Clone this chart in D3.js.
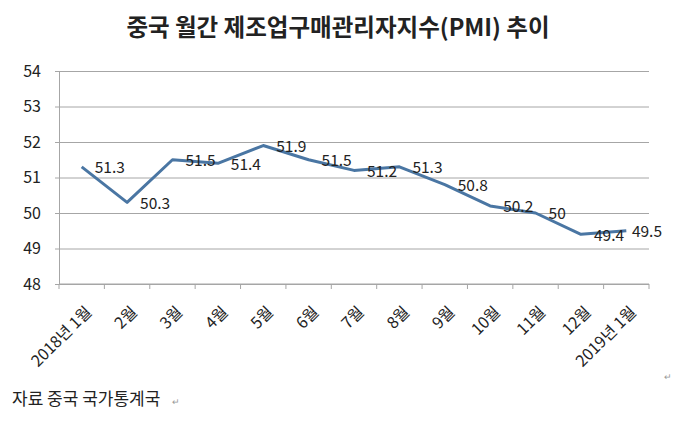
<!DOCTYPE html>
<html>
<head>
<meta charset="utf-8">
<script src="https://cdn.jsdelivr.net/npm/d3@7"></script>
<style>
  body { margin: 0; background: #fff; }
  text { font-family: "Noto Sans CJK KR", "Malgun Gothic", sans-serif; fill: #222; }
</style>
</head>
<body>
<svg id="chart" width="680" height="421"></svg>
<script>
var months = ['2018년 1월', '2월', '3월', '4월', '5월', '6월', '7월', '8월', '9월', '10월', '11월', '12월', '2019년 1월'];
var pmi = [51.3, 50.3, 51.5, 51.4, 51.9, 51.5, 51.2, 51.3, 50.8, 50.2, 50, 49.4, 49.5];
var yTicks = [48, 49, 50, 51, 52, 53, 54];

var svg = d3.select('#chart'),
    mLeft = 59, mRight = 649, mTop = 71, mBottom = 284;

var x = d3.scaleBand().domain(months).range([mLeft, mRight]);
var y = d3.scaleLinear().domain([48, 54]).range([mBottom, mTop]);

// title
svg.append('text')
    .attr('x', 338).attr('y', 36)
    .attr('text-anchor', 'middle')
    .attr('font-size', 23.5).attr('font-weight', 'bold')
    .text('중국 월간 제조업구매관리자지수(PMI) 추이');

// gridlines + y axis
svg.append('g')
    .attr('transform', 'translate(' + mLeft + ',0)')
    .call(d3.axisLeft(y).tickValues(yTicks).tickFormat(d3.format('d')).tickSize(4).tickPadding(14))
    .call(g => {
        g.select('.domain').attr('stroke', '#a6a6a6')
        g.selectAll('.tick line').attr('stroke', '#a6a6a6')
        g.selectAll('.tick line').clone()
            .attr('x2', mRight - mLeft)
        g.selectAll('.tick text').attr('font-size', 16).attr('fill', '#222')
            .attr('font-family', '"Noto Sans CJK KR", sans-serif')
    });

// x axis with ticks between categories
var xAxis = svg.append('g').attr('transform', 'translate(0,' + mBottom + ')');
xAxis.append('line')
    .attr('x1', mLeft).attr('x2', mRight)
    .attr('stroke', '#a6a6a6');
xAxis.selectAll('.bound')
    .data(months.concat(['end']))
    .enter().append('line')
    .attr('x1', (d, i) => mLeft + i * x.step())
    .attr('x2', (d, i) => mLeft + i * x.step())
    .attr('y1', 0).attr('y2', 5)
    .attr('stroke', '#a6a6a6');
xAxis.selectAll('.lbl')
    .data(months)
    .enter().append('text')
    .attr('transform', d => 'translate(' + (x(d) + x.bandwidth() / 2 + 7) + ',25) rotate(-45)')
    .attr('text-anchor', 'end')
    .attr('dy', '0.35em')
    .attr('font-size', 16)
    .text(d => d);

// line
var line = d3.line()
    .x((d, i) => x(months[i]) + x.bandwidth() / 2)
    .y(d => y(d));

svg.append('path')
    .datum(pmi)
    .attr('fill', 'none')
    .attr('stroke', '#4a76a3')
    .attr('stroke-width', 3)
    .attr('stroke-linejoin', 'round')
    .attr('d', line);

// data labels to the right of each point
svg.selectAll('.val')
    .data(pmi)
    .enter().append('text')
    .attr('x', (d, i) => x(months[i]) + x.bandwidth() / 2 + 13)
    .attr('y', d => y(d) + 1)
    .attr('dy', '0.35em')
    .attr('font-size', 15.5)
    .text(d => d)
    .each(function() {
        var w = this.getComputedTextLength(), xx = +this.getAttribute('x');
        if (xx + w > 662) this.setAttribute('x', 662 - w);
    });

// source note
svg.append('text')
    .attr('x', 12).attr('y', 405)
    .attr('font-size', 17)
    .text('자료 중국 국가통계국');
svg.append('text')
    .attr('x', 172).attr('y', 405)
    .attr('font-size', 9)
    .style('fill', '#999')
    .text('↵');
svg.append('text')
    .attr('x', 664).attr('y', 380)
    .attr('font-size', 9)
    .style('fill', '#999')
    .text('↵');
</script>
</body>
</html>
